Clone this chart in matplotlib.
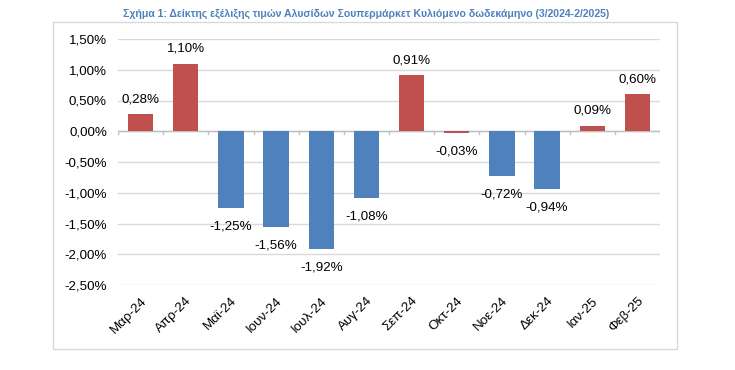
import matplotlib
matplotlib.use("Agg")
import matplotlib.pyplot as plt
from matplotlib.patches import Rectangle

months = ["Μαρ-24", "Απρ-24", "Μαϊ-24", "Ιουν-24", "Ιουλ-24", "Αυγ-24",
          "Σεπ-24", "Οκτ-24", "Νοε-24", "Δεκ-24", "Ιαν-25", "Φεβ-25"]
changes = [0.28, 1.10, -1.25, -1.56, -1.92, -1.08, 0.91, -0.03, -0.72, -0.94, 0.09, 0.60]
bar_colors = ["red", "red", "blue", "blue", "blue", "blue",
              "red", "red", "blue", "blue", "red", "red"]
ticks = [1.5, 1.0, 0.5, 0.0, -0.5, -1.0, -1.5, -2.0, -2.5]

RED = "#C0504D"
BLUE = "#4F81BD"
palette = {"red": RED, "blue": BLUE}

plt.rcParams["font.family"] = ["Liberation Sans", "DejaVu Sans"]


def pct(v):
    return f"{v:.2f}%".replace(".", ",")


fig = plt.figure(figsize=(7.35, 3.7), dpi=100)
W, H = 735, 370

# outer chart border
fig.patches.append(Rectangle((53 / W, 1 - 349 / H), (677 - 53) / W, (349 - 22) / H,
                             transform=fig.transFigure, fill=False,
                             edgecolor="#D9D9D9", linewidth=1.0))

fig.text(366 / W, 1 - 14 / H,
         "Σχήμα 1: Δείκτης εξέλιξης τιμών Αλυσίδων Σουπερμάρκετ Κυλιόμενο δωδεκάμηνο (3/2024-2/2025)",
         ha="center", va="center", fontsize=7.6, fontweight="bold", color="#4F81BD",
         family=["Liberation Sans Narrow", "Liberation Sans", "DejaVu Sans"])

ax = fig.add_axes([118 / W, 1 - 285 / H, (660 - 118) / W, (285 - 39) / H])
x = list(range(len(months)))
ax.bar(x, changes, width=0.56, color=[palette[c] for c in bar_colors], zorder=3)

ax.set_ylim(-2.5, 1.5)
ax.set_xlim(-0.5, len(months) - 0.5)
ax.set_yticks(ticks)
ax.set_yticklabels([pct(t) for t in ticks], fontsize=9.6)
ax.tick_params(axis="y", length=0, pad=8)
ax.grid(axis="y", color="#D9D9D9", linewidth=1.0, zorder=0)
for s in ax.spines.values():
    s.set_visible(False)

# zero axis with category boundary ticks
ax.axhline(0, color="#BFBFBF", linewidth=1.0, zorder=2)
for b in range(len(months) + 1):
    ax.plot([b - 0.5, b - 0.5], [0, -0.05], color="#BFBFBF", linewidth=1.0, zorder=2)

ax.set_xticks(x)
ax.set_xticklabels(months, rotation=45, ha="right", rotation_mode="anchor", fontsize=9.6)
ax.tick_params(axis="x", length=0, pad=7)

for xi, v in zip(x, changes):
    if v >= 0:
        ax.annotate(pct(v), (xi, v), xytext=(0, 6.5), textcoords="offset points",
                    ha="center", va="bottom", fontsize=9.6)
    else:
        ax.annotate(pct(v), (xi, v), xytext=(0, -9), textcoords="offset points",
                    ha="center", va="top", fontsize=9.6)

fig.savefig("out.png", dpi=100)
